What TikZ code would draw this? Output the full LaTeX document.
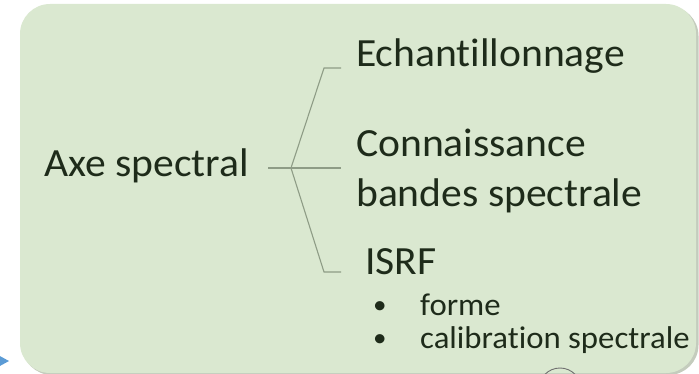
\documentclass[tikz,border=0pt]{standalone}
\usepackage{fontspec}
\setmainfont{Carlito}[Ligatures=NoCommon, FakeStretch=1.04]
\definecolor{panelfill}{HTML}{DAE8D0}
\definecolor{panelshade}{HTML}{C4CCBD}
\definecolor{inktext}{HTML}{1E2B1A}
\definecolor{bracketline}{HTML}{8E9C86}
\definecolor{marker}{HTML}{5B9BD5}
\definecolor{ringline}{HTML}{707070}
\tikzset{
  big/.style={anchor=base west, inner sep=0pt, text=inktext, font=\fontsize{40}{50}\selectfont},
  small/.style={anchor=base west, inner sep=0pt, text=inktext, font=\fontsize{31.5}{38}\selectfont},
  dot/.style={anchor=base west, inner sep=0pt, text=inktext, font=\fontsize{26}{30}\selectfont},
  brace/.style={draw=bracketline, line width=1.1pt}
}
\begin{document}
\begin{tikzpicture}[x=1pt,y=-1pt]
\useasboundingbox (0,0) rectangle (699,374);
% rounded panel with a faint shadow
\fill[panelshade, rounded corners=30pt] (22,6) rectangle (698.5,375);
\fill[panelfill, rounded corners=30pt] (20,4) rectangle (696,373);
% blue pointer at the lower left
\fill[marker] (-2,355) -- (9,361) -- (-2,367) -- cycle;
% ring partly hidden below the panel
\draw[ringline, line width=0.9pt] (560,389) circle (21);
% texts
\node[big] (axe) at (44,177) {Axe spectral};
\node[big] (ech) at (356,67) {Echantillonnage};
\node[big] (con1) at (356,157) {Connaissance};
\node[big] (con2) at (356,207) {bandes spectrale};
\node[big] (isrf) at (365,275) {ISRF};
\node[dot] (b1) at (373,313) {•};
\node[small] (forme) at (420,315) {forme};
\node[dot] (b2) at (373,346) {•};
\node[small] (calib) at (420,348) {calibration spectrale};
% bracket joining the main item to its three branches
\coordinate (stem) at (268,168);
\coordinate (fork) at (291,168);
\coordinate (topend) at (341,68);
\coordinate (topknee) at (324,68);
\coordinate (midend) at (341,168);
\coordinate (botknee) at (324,272);
\coordinate (botend) at (341,272);
\draw[brace] (stem) -- (midend);
\draw[brace] (topend) -- (topknee) -- (fork) -- (botknee) -- (botend);
\end{tikzpicture}
\end{document}
